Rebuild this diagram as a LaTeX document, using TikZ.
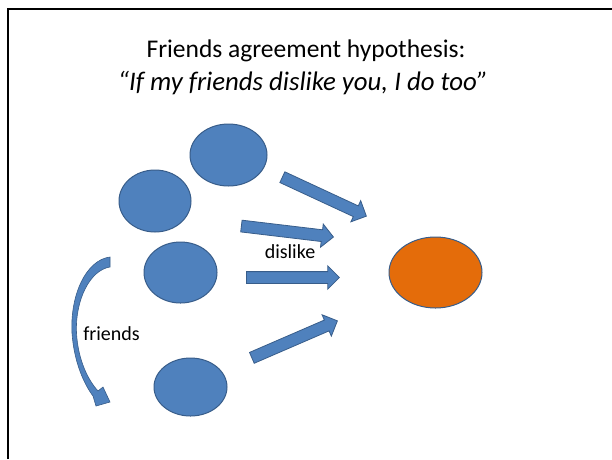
\documentclass[tikz,border=0pt]{standalone}
\usepackage{fontspec}
\setmainfont{Carlito}
\usetikzlibrary{shapes.geometric,shapes.arrows}
\definecolor{blueF}{HTML}{4F81BD}
\definecolor{blueD}{HTML}{385D8A}
\definecolor{orangeF}{HTML}{E46C0A}
\begin{document}
\begin{tikzpicture}[x=1pt,y=-1pt,
  person/.style={ellipse, draw=blueD, fill=blueF, line width=1pt, inner sep=0pt},
  blockarrow/.style={single arrow, draw=blueD, fill=blueF, line width=0.8pt,
    minimum width=22.5pt, single arrow head extend=5.75pt, inner xsep=0pt, inner ysep=5.5pt,
    single arrow tip angle=90, anchor=tail},
  lbl/.style={anchor=base, font=\fontsize{20}{24}\selectfont},
  ttl/.style={anchor=base, font=\fontsize{25.5}{30}\selectfont}]
\useasboundingbox (0,0) rectangle (612,459);
\fill[white] (0,0) rectangle (612,459);
% frame
\coordinate (fb) at (8,459);
\coordinate (fc) at (8,9);
\coordinate (fr) at (612,9);
\draw[line width=2pt] (fb) -- (fc) -- (fr);
% title
\node[ttl] (title) at (306,57) {Friends agreement hypothesis:};
\node[ttl, font=\fontsize{26.8}{30}\selectfont\itshape] (sub) at (303,90) {“If my friends dislike you, I do too”};
% people
\node[person, minimum width=77pt, minimum height=62pt] (p1) at (228.5,155) {};
\node[person, minimum width=72pt, minimum height=62pt] (p2) at (155,201) {};
\node[person, minimum width=73pt, minimum height=61pt] (p3) at (180.5,272.5) {};
\node[person, minimum width=73pt, minimum height=58pt] (p4) at (190.5,387) {};
\node[person, fill=orangeF, minimum width=93pt, minimum height=71pt] (t) at (435.5,272.5) {};
% block arrows (placed by their tails)
\node[blockarrow, minimum height=92.6pt, rotate=-24.9] (a1) at (282,177) {};
\node[blockarrow, minimum height=92.7pt, rotate=-6.8] (a2) at (241,226) {};
\node[blockarrow, minimum height=93pt] (a3) at (246,277.5) {};
\node[blockarrow, minimum height=93.2pt, rotate=23.4] (a4) at (251.5,358) {};
% curved friends arrow
\filldraw[fill=blueF, draw=blueD, line width=0.6pt, line join=miter]
  (110,257) .. controls (86,260) and (70,295) .. (72,333)
  .. controls (74,362) and (84,384) .. (93,396)
  -- (96,406) -- (110,402) -- (103,387) -- (98,391)
  .. controls (88,380) and (78,360) .. (76.5,333)
  .. controls (75,300) and (90,270) .. (110,267) -- cycle;
% labels
\node[lbl] (dl) at (290,258) {dislike};
\node[lbl] (frl) at (111.5,340) {friends};
\end{tikzpicture}
\end{document}
